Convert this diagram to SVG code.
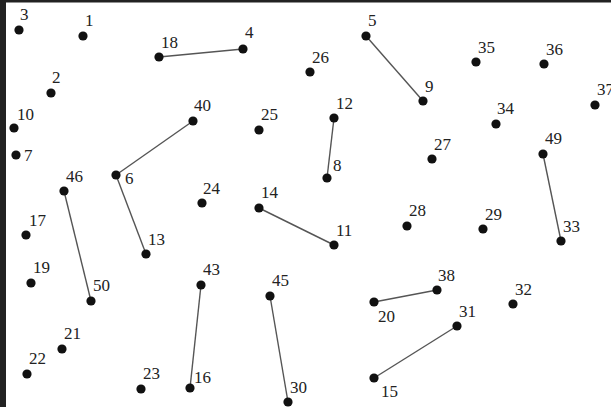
<svg xmlns="http://www.w3.org/2000/svg" width="611" height="407" viewBox="0 0 611 407">
<style>
.d{fill:#111}
.t{font-family:"Liberation Serif","Times New Roman",serif;font-size:17px;fill:#222}
.e line{stroke:#555;stroke-width:1.4}
</style>
<defs><circle id="dot" r="4.6" class="d"/></defs>
<rect width="611" height="407" fill="#fff"/>
<rect x="0" y="0" width="611" height="2.5" fill="#222"/>
<rect x="0" y="0" width="6" height="407" fill="#222"/>
<g id="connectors" class="e">
<line x1="159" y1="57" x2="243" y2="49"/>
<line x1="366" y1="36" x2="423" y2="101"/>
<line x1="193" y1="121" x2="116" y2="175"/>
<line x1="116" y1="175" x2="146" y2="254"/>
<line x1="334" y1="118" x2="327" y2="178"/>
<line x1="64" y1="191" x2="91" y2="301"/>
<line x1="259" y1="208" x2="334" y2="245"/>
<line x1="543" y1="154" x2="561" y2="241"/>
<line x1="201" y1="285" x2="190" y2="388"/>
<line x1="270" y1="296" x2="288" y2="402"/>
<line x1="374" y1="302" x2="437" y2="290"/>
<line x1="374" y1="378" x2="457" y2="326"/>
</g>
<g id="n3"><use href="#dot" x="19" y="30"/><text class="t" x="20" y="20">3</text></g>
<g id="n1"><use href="#dot" x="83" y="36"/><text class="t" x="85" y="26">1</text></g>
<g id="n18"><use href="#dot" x="159" y="57"/><text class="t" x="161" y="48">18</text></g>
<g id="n4"><use href="#dot" x="243" y="49"/><text class="t" x="245" y="38">4</text></g>
<g id="n2"><use href="#dot" x="51" y="93"/><text class="t" x="52" y="83">2</text></g>
<g id="n10"><use href="#dot" x="14" y="128"/><text class="t" x="17" y="120">10</text></g>
<g id="n40"><use href="#dot" x="193" y="121"/><text class="t" x="194" y="111">40</text></g>
<g id="n26"><use href="#dot" x="310" y="72"/><text class="t" x="312" y="63">26</text></g>
<g id="n5"><use href="#dot" x="366" y="36"/><text class="t" x="368" y="26">5</text></g>
<g id="n25"><use href="#dot" x="259" y="130"/><text class="t" x="261" y="120">25</text></g>
<g id="n12"><use href="#dot" x="334" y="118"/><text class="t" x="336" y="109">12</text></g>
<g id="n9"><use href="#dot" x="423" y="101"/><text class="t" x="425" y="92">9</text></g>
<g id="n35"><use href="#dot" x="476" y="62"/><text class="t" x="478" y="53">35</text></g>
<g id="n36"><use href="#dot" x="544" y="64"/><text class="t" x="546" y="55">36</text></g>
<g id="n37"><use href="#dot" x="595" y="105"/><text class="t" x="597" y="95">37</text></g>
<g id="n34"><use href="#dot" x="496" y="124"/><text class="t" x="497" y="114">34</text></g>
<g id="n7"><use href="#dot" x="16" y="155"/><text class="t" x="24" y="161">7</text></g>
<g id="n46"><use href="#dot" x="64" y="191"/><text class="t" x="66" y="182">46</text></g>
<g id="n6"><use href="#dot" x="116" y="175"/><text class="t" x="125" y="184">6</text></g>
<g id="n17"><use href="#dot" x="26" y="235"/><text class="t" x="29" y="226">17</text></g>
<g id="n13"><use href="#dot" x="146" y="254"/><text class="t" x="148" y="245">13</text></g>
<g id="n24"><use href="#dot" x="202" y="203"/><text class="t" x="203" y="194">24</text></g>
<g id="n8"><use href="#dot" x="327" y="178"/><text class="t" x="333" y="171">8</text></g>
<g id="n14"><use href="#dot" x="259" y="208"/><text class="t" x="261" y="198">14</text></g>
<g id="n11"><use href="#dot" x="334" y="245"/><text class="t" x="336" y="236">11</text></g>
<g id="n27"><use href="#dot" x="432" y="159"/><text class="t" x="434" y="150">27</text></g>
<g id="n49"><use href="#dot" x="543" y="154"/><text class="t" x="545" y="144">49</text></g>
<g id="n28"><use href="#dot" x="407" y="226"/><text class="t" x="409" y="216">28</text></g>
<g id="n29"><use href="#dot" x="483" y="229"/><text class="t" x="485" y="220">29</text></g>
<g id="n33"><use href="#dot" x="561" y="241"/><text class="t" x="563" y="232">33</text></g>
<g id="n19"><use href="#dot" x="31" y="283"/><text class="t" x="33" y="273">19</text></g>
<g id="n50"><use href="#dot" x="91" y="301"/><text class="t" x="93" y="291">50</text></g>
<g id="n43"><use href="#dot" x="201" y="285"/><text class="t" x="203" y="275">43</text></g>
<g id="n21"><use href="#dot" x="62" y="349"/><text class="t" x="64" y="339">21</text></g>
<g id="n22"><use href="#dot" x="27" y="374"/><text class="t" x="29" y="364">22</text></g>
<g id="n23"><use href="#dot" x="141" y="389"/><text class="t" x="143" y="379">23</text></g>
<g id="n16"><use href="#dot" x="190" y="388"/><text class="t" x="194" y="383">16</text></g>
<g id="n45"><use href="#dot" x="270" y="296"/><text class="t" x="272" y="286">45</text></g>
<g id="n30"><use href="#dot" x="288" y="402"/><text class="t" x="290" y="393">30</text></g>
<g id="n20"><use href="#dot" x="374" y="302"/><text class="t" x="378" y="322">20</text></g>
<g id="n15"><use href="#dot" x="374" y="378"/><text class="t" x="381" y="397">15</text></g>
<g id="n38"><use href="#dot" x="437" y="290"/><text class="t" x="438" y="281">38</text></g>
<g id="n32"><use href="#dot" x="513" y="304"/><text class="t" x="515" y="295">32</text></g>
<g id="n31"><use href="#dot" x="457" y="326"/><text class="t" x="459" y="317">31</text></g>
</svg>
